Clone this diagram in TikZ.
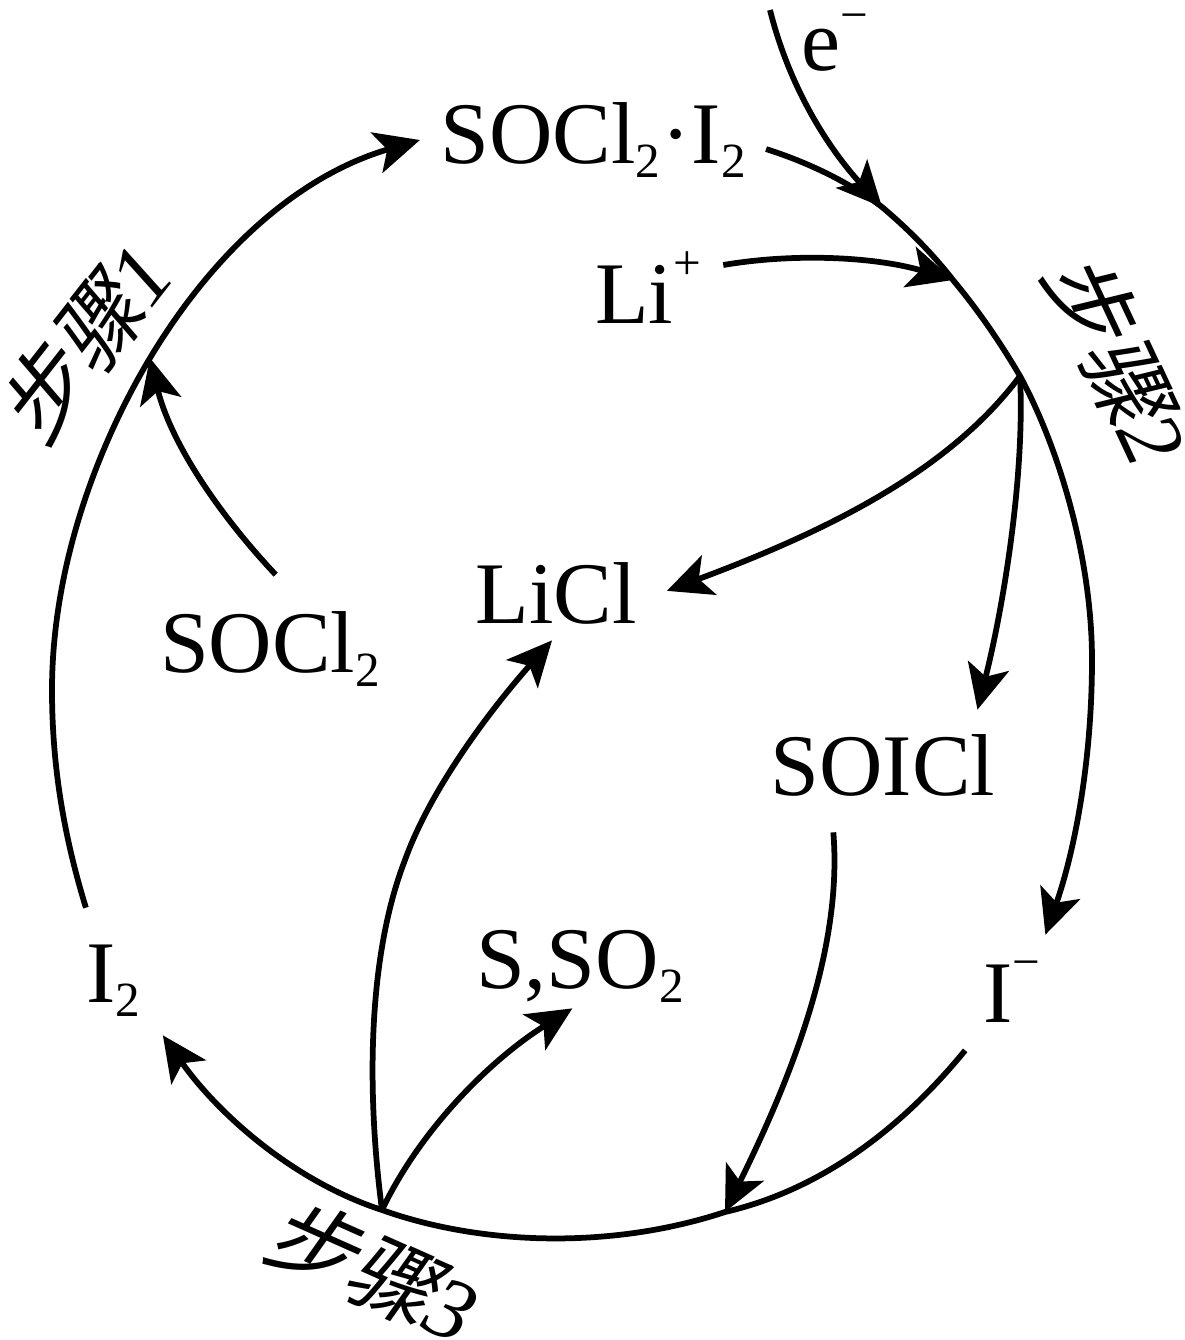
\documentclass[tikz,border=0pt]{standalone}
\usepackage{fontspec}
\setmainfont{Liberation Serif}
\newfontfamily\cjk[FakeSlant=0.2]{Noto Sans CJK SC}
\usetikzlibrary{arrows.meta,calc}
\newcommand{\subn}[1]{\raisebox{-0.17em}{\fontsize{28}{28}\selectfont #1}}
\newcommand{\supn}[1]{\raisebox{0.5em}{\fontsize{28}{28}\selectfont #1}}
\tikzset{
  chem/.style={anchor=base, inner ysep=0pt, inner xsep=0pt, font=\fontsize{50}{52}\selectfont},
  cyc/.style={line width=0.115cm, -{Stealth[length=0.9cm,width=0.84cm,inset=0.22cm]}},
  steplab/.style={inner sep=0pt, font=\fontsize{50}{52}\selectfont}
}
\begin{document}
\begin{tikzpicture}[x=0.02cm, y=-0.02cm]
  \useasboundingbox (0,0) rectangle (1185,1340);
  \node[chem, inner xsep=0.4cm, text height=1.16cm, text depth=0.24cm] (adduct) at (593,163) {SOCl\subn{2}\kern0.03cm·\kern0.02cm I\subn{2}\hspace{0.2cm}};
  \node[chem, inner xsep=0.44cm, text height=1.5cm, text depth=0.1cm] (li) at (648,323) {Li\supn{+}};
  \node[chem] (elec) at (835,70) {e\raisebox{-0.06em}{\supn{−}}};
  \node[chem, inner xsep=0.6cm, text height=1.16cm, text depth=0.34cm] (licl) at (556,623) {LiCl};
  \node[chem, text height=1.94cm, text depth=0.2cm] (socl) at (270,672) {SOCl\subn{2}};
  \node[chem, inner xsep=0.3cm, text height=1.7cm, text depth=0.74cm] (soicl) at (883,795) {SOICl};
  \node[chem, inner xsep=0.5cm, text height=1.74cm, text depth=0.56cm] (iodide) at (1012,1022) {I\supn{−}};
  \node[chem, text height=1.16cm, text depth=0.4cm] (sulfur) at (580,988) {S,SO\subn{2}};
  \node[chem, inner xsep=0.5cm, text height=1.88cm, text depth=0.66cm] (iodine) at (113,1002) {I\subn{2}};
  \foreach \n/\x/\y/\r in {1/84/342/52, 2/1118/358/-65, 3/373/1270/-24} {
    \node[steplab, rotate=\r] (step\n) at (\x,\y) {{\cjk 步骤}\textit{\n}};
  }
  \coordinate (estart) at (770,10);
  \coordinate (jelec) at (882,207);
  \coordinate (jli) at (953,280);
  \coordinate (jsplit) at (1020,376);
  \coordinate (jright) at (1092,660);
  \coordinate (jleft) at (52,690);
  \coordinate (jsocl) at (150,358);
  \coordinate (jsoicl) at (725,1212);
  \coordinate (jbottom) at (382,1210);
  \coordinate (jmid) at (405,860);
  % the ring
  \draw[cyc] (iodine.113.8) .. controls (62,830) and (52,760) .. (jleft)
    .. controls (52,570) and (95,450) .. (jsocl)
    .. controls (215,250) and (300,175) .. (adduct.west);
  \draw[cyc] (adduct.-3.6) .. controls (810,163) and (850,183) .. (jelec)
    .. controls (908,229) and (932,253) .. (jli)
    .. controls (978,310) and (1000,342) .. (jsplit)
    .. controls (1060,450) and (1092,560) .. (jright)
    .. controls (1092,760) and (1075,850) .. (iodide.60.1);
  \draw[cyc] (iodide.-129.3) .. controls (900,1130) and (820,1190) .. (jsoicl)
    .. controls (610,1250) and (480,1245) .. (jbottom)
    .. controls (290,1180) and (215,1110) .. (iodine.-52.3);
  % in and out of the ring
  \draw[cyc] (estart) .. controls (790,90) and (830,150) .. (jelec);
  \draw[cyc] (li.17) .. controls (800,252) and (880,258) .. (jli);
  \draw[cyc] (socl.84.7) .. controls (215,510) and (170,440) .. (jsocl);
  \draw[cyc] (jsplit) .. controls (950,470) and (830,530) .. (licl.6.5);
  \draw[cyc] (jsplit) .. controls (1025,470) and (1005,600) .. (soicl.33.5);
  \draw[cyc] (soicl.-129.3) .. controls (843,950) and (790,1080) .. (jsoicl);
  \draw[cyc] (jbottom) .. controls (365,1080) and (370,950) .. (jmid)
    .. controls (430,790) and (490,710) .. (licl.-96);
  \draw[cyc] (jbottom) .. controls (420,1130) and (490,1060) .. (sulfur.-101.6);
\end{tikzpicture}
\end{document}
